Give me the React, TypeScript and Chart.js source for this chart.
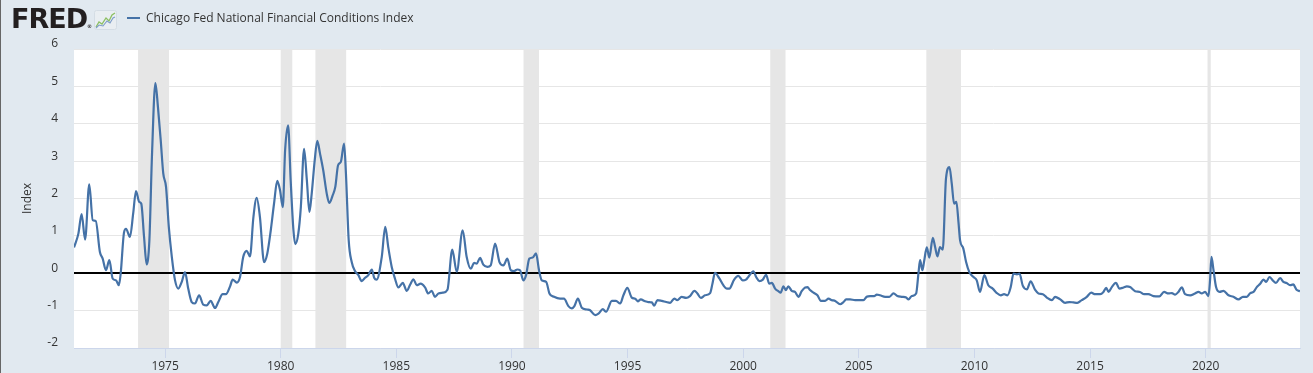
import React, { useEffect, useRef } from 'react';
import { Chart, registerables } from 'chart.js';
Chart.register(...registerables);

const seriesName = 'Chicago Fed National Financial Conditions Index';
const axisTitle = 'Index';

const years = [
  1971.06, 1971.25, 1971.39, 1971.54, 1971.72, 1971.87, 1972.0, 1972.18, 1972.3, 1972.44, 1972.59, 1972.73, 1972.88,
  1973.0, 1973.08, 1973.22, 1973.31, 1973.48, 1973.62, 1973.74, 1973.88, 1973.97, 1974.09, 1974.2, 1974.32, 1974.43,
  1974.58, 1974.69, 1974.81, 1974.92, 1975.04, 1975.16, 1975.29, 1975.43, 1975.57, 1975.72, 1975.86, 1976.0, 1976.15,
  1976.29, 1976.47, 1976.65, 1976.8, 1976.97, 1977.16, 1977.3, 1977.49, 1977.63, 1977.81, 1977.92, 1978.1, 1978.24,
  1978.38, 1978.53, 1978.67, 1978.82, 1978.96, 1979.1, 1979.28, 1979.42, 1979.57, 1979.71, 1979.85, 1979.97, 1980.09,
  1980.19, 1980.32, 1980.43, 1980.55, 1980.63, 1980.76, 1980.87, 1981.01, 1981.13, 1981.24, 1981.34, 1981.47, 1981.58,
  1981.7, 1981.84, 1981.99, 1982.1, 1982.25, 1982.36, 1982.48, 1982.6, 1982.74, 1982.82, 1982.94, 1983.07, 1983.21,
  1983.36, 1983.5, 1983.65, 1983.79, 1983.94, 1984.04, 1984.15, 1984.37, 1984.52, 1984.65, 1984.8, 1984.94, 1985.09,
  1985.28, 1985.45, 1985.6, 1985.74, 1985.88, 1986.05, 1986.24, 1986.38, 1986.53, 1986.67, 1986.82, 1987.01, 1987.21,
  1987.42, 1987.61, 1987.87, 1988.04, 1988.22, 1988.36, 1988.48, 1988.62, 1988.76, 1988.94, 1989.08, 1989.27, 1989.46,
  1989.63, 1989.8, 1989.95, 1990.09, 1990.23, 1990.35, 1990.49, 1990.61, 1990.75, 1990.9, 1991.04, 1991.17, 1991.29,
  1991.48, 1991.62, 1991.82, 1992.08, 1992.25, 1992.44, 1992.59, 1992.7, 1992.85, 1993.02, 1993.24, 1993.38, 1993.6,
  1993.74, 1993.93, 1994.07, 1994.32, 1994.5, 1994.68, 1994.82, 1994.99, 1995.18, 1995.33, 1995.44, 1995.57, 1995.76,
  1995.9, 1996.05, 1996.15, 1996.29, 1996.48, 1996.67, 1996.84, 1997.02, 1997.15, 1997.34, 1997.53, 1997.7, 1997.89,
  1998.02, 1998.17, 1998.35, 1998.57, 1998.67, 1998.78, 1998.97, 1999.14, 1999.29, 1999.4, 1999.61, 1999.79, 1999.98,
  2000.12, 2000.22, 2000.44, 2000.56, 2000.7, 2000.85, 2000.99, 2001.13, 2001.24, 2001.38, 2001.52, 2001.62, 2001.74,
  2001.85, 2001.95, 2002.1, 2002.24, 2002.39, 2002.53, 2002.68, 2002.78, 2002.89, 2003.04, 2003.21, 2003.36, 2003.54,
  2003.69, 2003.83, 2003.98, 2004.19, 2004.34, 2004.45, 2004.62, 2004.84, 2005.06, 2005.2, 2005.34, 2005.49, 2005.66,
  2005.78, 2005.92, 2006.14, 2006.32, 2006.5, 2006.67, 2006.86, 2007.05, 2007.15, 2007.29, 2007.48, 2007.58, 2007.65,
  2007.75, 2007.82, 2007.94, 2008.05, 2008.2, 2008.3, 2008.4, 2008.51, 2008.63, 2008.77, 2008.92, 2009.02, 2009.12,
  2009.22, 2009.31, 2009.38, 2009.52, 2009.64, 2009.78, 2009.96, 2010.1, 2010.24, 2010.43, 2010.6, 2010.79, 2010.97,
  2011.14, 2011.28, 2011.43, 2011.57, 2011.69, 2011.84, 2011.95, 2012.09, 2012.27, 2012.43, 2012.62, 2012.77, 2012.96,
  2013.13, 2013.35, 2013.49, 2013.71, 2013.92, 2014.11, 2014.28, 2014.45, 2014.64, 2014.86, 2015.05, 2015.22, 2015.44,
  2015.58, 2015.7, 2015.8, 2015.94, 2016.12, 2016.27, 2016.45, 2016.59, 2016.73, 2016.95, 2017.16, 2017.34, 2017.52,
  2017.74, 2018.0, 2018.2, 2018.39, 2018.54, 2018.68, 2018.82, 2018.97, 2019.11, 2019.33, 2019.54, 2019.69, 2019.83,
  2019.98, 2020.12, 2020.19, 2020.25, 2020.34, 2020.45, 2020.6, 2020.77, 2020.99, 2021.2, 2021.42, 2021.61, 2021.78,
  2021.93, 2022.07, 2022.21, 2022.36, 2022.5, 2022.62, 2022.76, 2022.9, 2023.04, 2023.22, 2023.36, 2023.5, 2023.65,
  2023.79, 2023.93, 2024.08,
];

const values = [
  0.69, 1.06, 1.58, 0.9, 2.38, 1.42, 1.4, 0.57, 0.39, 0.08, 0.35, -0.14, -0.19,
  -0.32, 0.0, 1.08, 1.19, 0.97, 1.6, 2.2, 1.91, 1.86, 0.97, 0.24, 0.88, 3.11,
  5.09, 4.45, 3.56, 2.67, 2.31, 1.24, 0.44, -0.19, -0.41, -0.23, 0.03, -0.41, -0.77,
  -0.81, -0.59, -0.84, -0.86, -0.74, -0.93, -0.77, -0.56, -0.56, -0.35, -0.17, -0.25, -0.1,
  0.44, 0.6, 0.45, 1.51, 2.02, 1.51, 0.3, 0.53, 1.15, 1.86, 2.47, 2.22, 1.77,
  3.29, 3.96, 2.49, 1.15, 0.78, 1.06, 1.77, 3.33, 2.49, 1.64, 2.13, 3.02, 3.54,
  3.2, 2.75, 2.13, 1.88, 2.09, 2.31, 2.89, 2.98, 3.47, 2.67, 0.88, 0.3, 0.06,
  -0.05, -0.21, -0.12, -0.05, 0.1, -0.12, -0.17, 0.44, 1.24, 0.7, 0.17, -0.14, -0.38,
  -0.26, -0.47, -0.3, -0.16, -0.32, -0.28, -0.38, -0.54, -0.47, -0.63, -0.54, -0.52, -0.44,
  0.63, 0.04, 1.15, 0.44, 0.12, 0.28, 0.26, 0.41, 0.23, 0.17, 0.21, 0.79, 0.3,
  0.21, 0.39, 0.08, 0.06, 0.1, 0.08, -0.19, -0.05, 0.39, 0.42, 0.53, 0.08, -0.19,
  -0.23, -0.54, -0.63, -0.68, -0.68, -0.88, -0.94, -0.88, -0.68, -0.92, -0.97, -0.99, -1.12,
  -1.08, -0.96, -1.03, -0.74, -0.74, -0.81, -0.59, -0.39, -0.65, -0.68, -0.75, -0.7, -0.75,
  -0.77, -0.78, -0.87, -0.72, -0.74, -0.77, -0.79, -0.68, -0.72, -0.63, -0.66, -0.61, -0.47,
  -0.54, -0.66, -0.59, -0.53, -0.28, 0.01, -0.14, -0.32, -0.41, -0.41, -0.17, -0.07, -0.19,
  -0.17, -0.1, 0.05, -0.1, -0.21, -0.17, -0.04, -0.28, -0.26, -0.41, -0.48, -0.52, -0.35,
  -0.45, -0.35, -0.47, -0.5, -0.63, -0.48, -0.38, -0.37, -0.45, -0.52, -0.59, -0.74, -0.74,
  -0.68, -0.72, -0.74, -0.83, -0.77, -0.7, -0.7, -0.72, -0.72, -0.72, -0.63, -0.61, -0.61,
  -0.57, -0.59, -0.63, -0.63, -0.54, -0.61, -0.63, -0.65, -0.7, -0.61, -0.54, 0.0, 0.35,
  0.08, 0.3, 0.69, 0.42, 0.95, 0.7, 0.45, 0.7, 0.63, 2.53, 2.84, 2.4, 1.86,
  1.91, 1.37, 0.88, 0.66, 0.3, 0.03, -0.1, -0.19, -0.5, -0.05, -0.32, -0.41, -0.53,
  -0.59, -0.56, -0.59, -0.37, -0.01, -0.03, -0.01, -0.33, -0.43, -0.22, -0.44, -0.54, -0.56,
  -0.65, -0.72, -0.63, -0.7, -0.79, -0.77, -0.78, -0.79, -0.72, -0.63, -0.52, -0.56, -0.56,
  -0.5, -0.39, -0.5, -0.37, -0.26, -0.41, -0.38, -0.35, -0.37, -0.48, -0.5, -0.56, -0.56,
  -0.61, -0.62, -0.5, -0.54, -0.53, -0.57, -0.5, -0.38, -0.56, -0.59, -0.54, -0.5, -0.54,
  -0.5, -0.61, -0.19, 0.44, 0.08, -0.37, -0.5, -0.47, -0.59, -0.63, -0.7, -0.63, -0.63,
  -0.53, -0.5, -0.37, -0.28, -0.17, -0.23, -0.1, -0.19, -0.26, -0.13, -0.23, -0.26, -0.32,
  -0.3, -0.44, -0.48,
];

const xTickYears = [1975, 1980, 1985, 1990, 1995, 2000, 2005, 2010, 2015, 2020];
const yTickValues = [-2, -1, 0, 1, 2, 3, 4, 5, 6];
const recessionStarts = [1973.83, 1980.0, 1981.5, 1990.5, 2001.17, 2007.92, 2020.08];
const recessionEnds = [1975.17, 1980.5, 1982.83, 1991.17, 2001.83, 2009.42, 2020.22];

const xMin = 1971.06;
const xMax = 2024.08;

const FONT = '"Open Sans", "DejaVu Sans", sans-serif';

const backgroundPlugin = {
  id: 'fredBackground',
  beforeDraw(chart: any) {
    const { ctx, chartArea, scales } = chart;
    ctx.save();
    ctx.fillStyle = '#ffffff';
    ctx.fillRect(chartArea.left, chartArea.top, chartArea.right - chartArea.left, chartArea.bottom - chartArea.top);
    ctx.fillStyle = '#e6e6e6';
    for (let i = 0; i < recessionStarts.length; i++) {
      const x1 = scales.x.getPixelForValue(recessionStarts[i]);
      const x2 = scales.x.getPixelForValue(recessionEnds[i]);
      ctx.fillRect(x1, chartArea.top, x2 - x1, chartArea.bottom - chartArea.top);
    }
    ctx.restore();
  },
};

export default function App() {
  const canvasRef = useRef<HTMLCanvasElement | null>(null);

  useEffect(() => {
    document.body.style.margin = '0';
    const canvas = canvasRef.current;
    if (!canvas) return;
    const chart = new Chart(canvas, {
      type: 'line',
      data: {
        datasets: [
          {
            label: seriesName,
            data: years.map((x, i) => ({ x, y: values[i] })),
            borderColor: '#4572a7',
            borderWidth: 2.2,
            pointRadius: 0,
            fill: false,
            cubicInterpolationMode: 'monotone',
          },
        ],
      },
      options: {
        animation: false,
        responsive: false,
        maintainAspectRatio: false,
        devicePixelRatio: 1,
        layout: { padding: { top: 49, right: 13, left: 0, bottom: 0 } },
        plugins: { legend: { display: false }, tooltip: { enabled: false } },
        scales: {
          x: {
            type: 'linear',
            min: xMin,
            max: xMax,
            afterBuildTicks: (s: any) => {
              s.ticks = xTickYears.map((v) => ({ value: v }));
            },
            afterFit: (s: any) => {
              s.height = 25;
            },
            grid: { drawOnChartArea: false, drawTicks: true, tickLength: 10, color: '#ccd6eb' },
            border: { display: true, color: '#ccd6eb' },
            ticks: {
              color: '#333333',
              font: { family: FONT, size: 12 },
              padding: 1,
              maxRotation: 0,
              autoSkip: false,
              callback: (v: any) => String(v),
            },
          },
          y: {
            min: -2,
            max: 6,
            afterBuildTicks: (s: any) => {
              s.ticks = yTickValues.map((v) => ({ value: v }));
            },
            afterFit: (s: any) => {
              s.width = 74;
            },
            grid: {
              color: (c: any) => (c.tick && c.tick.value === 0 ? '#000000' : '#e6e6e6'),
              lineWidth: (c: any) => (c.tick && c.tick.value === 0 ? 2 : 1),
              drawTicks: false,
            },
            border: { display: false },
            ticks: {
              padding: 16,
              labelOffset: -5,
              color: '#333333',
              font: { family: FONT, size: 12 },
              callback: (v: any) => String(v),
            },
            title: {
              display: true,
              text: axisTitle,
              color: '#333333',
              font: { family: FONT, size: 12 },
              padding: { top: 20, bottom: 0 },
            },
          },
        },
      },
      plugins: [backgroundPlugin],
    } as any);
    return () => chart.destroy();
  }, []);

  return (
    <div
      style={{
        position: 'relative',
        width: 1313,
        height: 373,
        background: '#e1e9f0',
        overflow: 'hidden',
        boxSizing: 'border-box',
      }}
    >
      <div style={{ position: 'absolute', left: 0, top: 0, width: 1, height: 373, background: '#666' }} />
      <canvas ref={canvasRef} width={1313} height={373} style={{ position: 'absolute', left: 0, top: 0, width: 1313, height: 373 }} />
      <div
        style={{
          position: 'absolute',
          left: 11,
          top: 1,
          fontFamily: '"DejaVu Sans", sans-serif',
          fontWeight: 'bold',
          fontSize: 27,
          letterSpacing: -1,
          color: '#231f20',
          lineHeight: '36px',
        }}
      >
        FRED
        <span style={{ fontSize: 5, letterSpacing: 0, verticalAlign: 'baseline' }}>®</span>
      </div>
      <svg style={{ position: 'absolute', left: 94, top: 10 }} width={23} height={20} viewBox="0 0 23 20">
        <rect x={0.5} y={0.5} width={22} height={19} rx={2} fill="#e9eef2" stroke="#d4dde5" strokeWidth={1} />
        <polyline points="2,17 5,12 8,14 12,8 15,11 18,5 21,3" fill="none" stroke="#8cbf62" strokeWidth={1.3} />
        <polyline points="2,18 5,15 9,16 13,11 16,13 19,8 21,7" fill="none" stroke="#7d9cc8" strokeWidth={1.1} />
      </svg>
      <div style={{ position: 'absolute', left: 127, top: 17, width: 13, height: 2, background: '#4572a7' }} />
      <div
        style={{
          position: 'absolute',
          left: 146,
          top: 9,
          fontFamily: FONT,
          fontSize: 12,
          color: '#333333',
          lineHeight: '18px',
          whiteSpace: 'nowrap',
        }}
      >
        {seriesName}
      </div>
    </div>
  );
}
